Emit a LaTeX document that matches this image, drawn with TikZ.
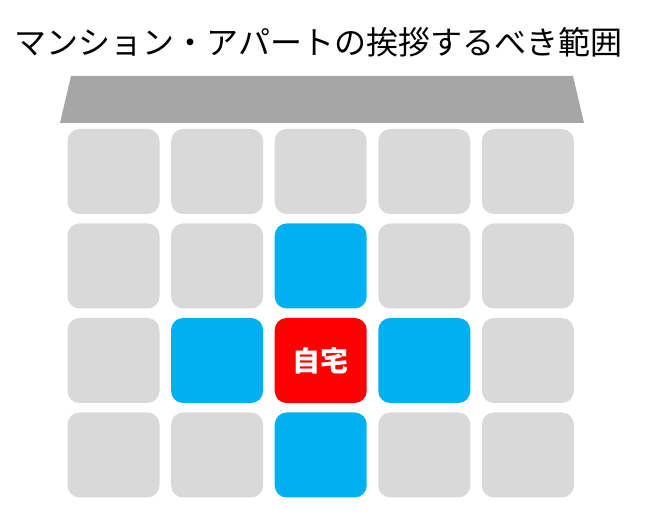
\documentclass[tikz,border=0pt]{standalone}
\usepackage{fontspec}
\newfontfamily\jpfont{Noto Sans CJK JP}
\definecolor{roofgray}{HTML}{A6A6A6}
\definecolor{cellgray}{HTML}{D9D9D9}
\definecolor{nearblue}{HTML}{00B0F0}
\definecolor{homered}{HTML}{FF0000}
\begin{document}
\begin{tikzpicture}[x=1pt,y=-1pt,
	room/.style={rounded corners=12pt,minimum width=92pt,minimum height=85pt,inner sep=0pt,fill=cellgray},
	nearroom/.style={room,fill=nearblue},
	homeroom/.style={room,fill=homered,text=white,font=\jpfont\bfseries\fontsize{28}{28}\selectfont}]
	\useasboundingbox (0,0) rectangle (654,526);
	\node[font=\jpfont\fontsize{32}{32}\selectfont] (title) at (318.5,42) {マンション・アパートの挨拶するべき範囲};
	\fill[roofgray] (71,76)--(573,76)--(584,123)--(60,123)--cycle;
	\foreach \r/\c in {1/1,1/2,1/3,1/4,1/5,2/1,2/2,2/4,2/5,3/1,3/5,4/1,4/2,4/4,4/5}
		\node[room] (room-\r-\c) at ({113.5+103.6*(\c-1)},{171.5+94.5*(\r-1)}) {};
	\node[nearroom] (room-2-3) at (320.7,266) {};
	\node[nearroom] (room-3-2) at (217.1,360.5) {};
	\node[homeroom] (room-3-3) at (320.7,360.5) {自宅};
	\node[nearroom] (room-3-4) at (424.3,360.5) {};
	\node[nearroom] (room-4-3) at (320.7,455) {};
\end{tikzpicture}
\end{document}
